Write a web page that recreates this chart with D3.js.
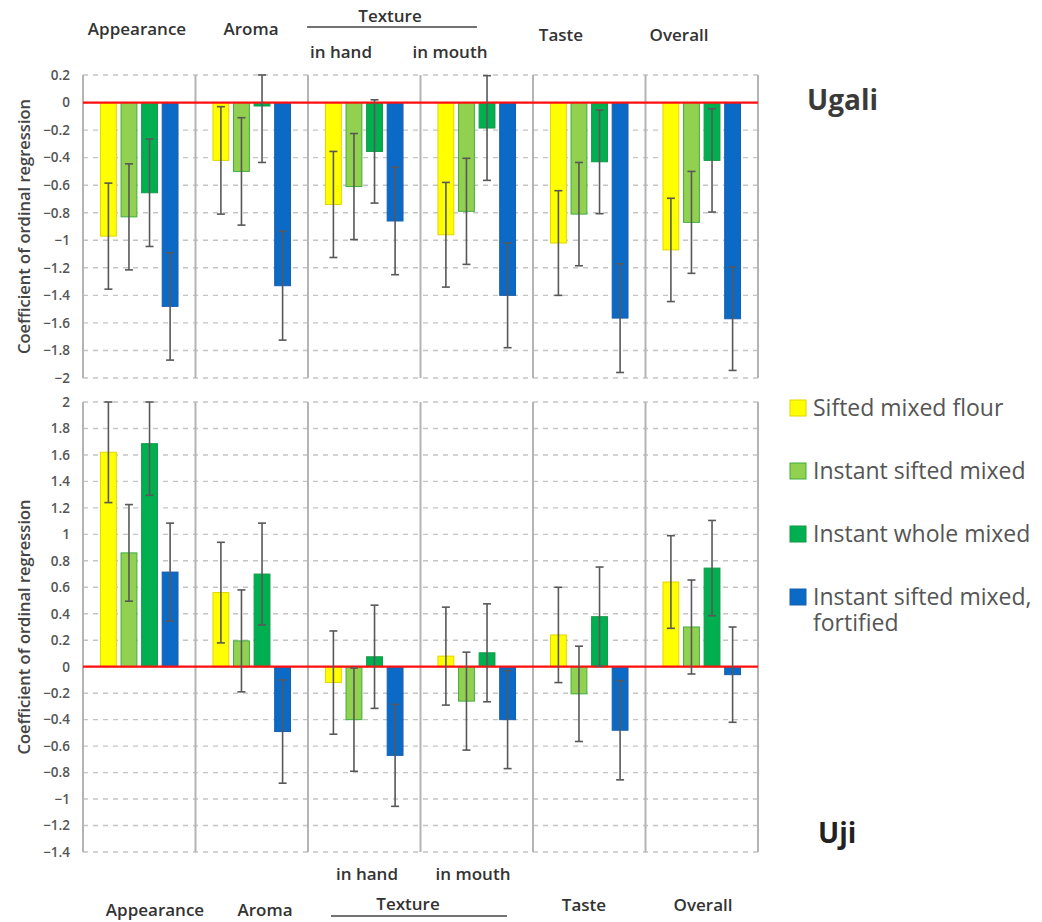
<!DOCTYPE html>
<html><head><meta charset="utf-8">
<script src="https://cdn.jsdelivr.net/npm/d3@7"></script>
<style>body{margin:0;background:#fff}svg{display:block}text{font-family:"Open Sans",sans-serif}</style>
</head><body>
<script>
const categories = ["Appearance","Aroma","Texture in hand","Texture in mouth","Taste","Overall"];
const seriesNames = ["Sifted mixed flour","Instant sifted mixed","Instant whole mixed","Instant sifted mixed, fortified"];
const seriesColors = ["#FFFF00","#92D050","#00B050","#0A6AC6"];
const seriesStrokes = ["#E4D400","#3FAE3F","#119A45","#1A5EAE"];

// Ugali (top panel): coefficients and error half-widths per series
const ugaliSifted = [-0.97,-0.42,-0.74,-0.96,-1.02,-1.07];
const ugaliSiftedErr = [0.385,0.39,0.385,0.38,0.38,0.375];
const ugaliInstSifted = [-0.83,-0.50,-0.61,-0.79,-0.81,-0.87];
const ugaliInstSiftedErr = [0.385,0.39,0.385,0.385,0.375,0.37];
const ugaliInstWhole = [-0.655,-0.025,-0.355,-0.185,-0.43,-0.42];
const ugaliInstWholeErr = [0.39,0.41,0.375,0.38,0.377,0.375];
const ugaliFortified = [-1.48,-1.33,-0.86,-1.40,-1.565,-1.57];
const ugaliFortifiedErr = [0.39,0.395,0.39,0.38,0.395,0.375];

// Uji (bottom panel)
const ujiSifted = [1.62,0.56,-0.12,0.08,0.24,0.64];
const ujiSiftedErr = [0.38,0.38,0.39,0.37,0.36,0.35];
const ujiInstSifted = [0.86,0.195,-0.40,-0.26,-0.205,0.30];
const ujiInstSiftedErr = [0.365,0.385,0.39,0.37,0.36,0.355];
const ujiInstWhole = [1.685,0.70,0.075,0.105,0.378,0.745];
const ujiInstWholeErr = [0.39,0.385,0.39,0.37,0.375,0.36];
const ujiFortified = [0.715,-0.49,-0.67,-0.40,-0.48,-0.06];
const ujiFortifiedErr = [0.37,0.39,0.385,0.37,0.375,0.36];

const ugaliTicks = [0.2,0,-0.2,-0.4,-0.6,-0.8,-1,-1.2,-1.4,-1.6,-1.8,-2];
const ujiTicks = [2,1.8,1.6,1.4,1.2,1,0.8,0.6,0.4,0.2,0,-0.2,-0.4,-0.6,-0.8,-1,-1.2,-1.4];

const W = 1042, H = 922;
const svg = d3.select("body").append("svg").attr("width", W).attr("height", H);

const x0 = d3.scaleBand().domain(categories).range([83, 758]).padding(0);
const x1 = d3.scaleBand().domain(seriesNames).range([0, x0.bandwidth()]).paddingInner(0.23).paddingOuter(0.85);

function panel(name, vals, errs, domain, range, ticks) {
  const y = d3.scaleLinear().domain(domain).range(range);
  const g = svg.append("g");
  g.selectAll("line.grid").data(ticks).join("line")
    .attr("x1", 83).attr("x2", 758)
    .attr("y1", d => y(d)).attr("y2", d => y(d))
    .attr("stroke", "#c4c4c4").attr("stroke-width", 1.4).attr("stroke-dasharray", "5,5");
  const bounds = categories.map(c => x0(c)).concat([758]);
  g.selectAll("line.div").data(bounds).join("line")
    .attr("x1", d => d).attr("x2", d => d)
    .attr("y1", range[0]).attr("y2", range[1])
    .attr("stroke", "#b4b4b4").attr("stroke-width", 2);
  const ax = g.append("g").attr("transform", "translate(70,0)")
    .call(d3.axisLeft(y).tickValues(ticks).tickSize(0).tickPadding(0).tickFormat(d => d3.format("")(+d.toFixed(1))));
  ax.select(".domain").remove();
  ax.selectAll("text").attr("font-size", 13.5).attr("font-weight", 600).attr("fill", "#555")
    .attr("font-family", "'Open Sans',sans-serif");
  seriesNames.forEach((s, si) => {
    const data = categories.map((c, ci) => ({c, v: vals[si][ci], e: errs[si][ci]}));
    g.append("g").selectAll("rect").data(data).join("rect")
      .attr("x", d => x0(d.c) + x1(s))
      .attr("width", x1.bandwidth())
      .attr("y", d => y(Math.max(0, d.v)))
      .attr("height", d => Math.abs(y(d.v) - y(0)))
      .attr("fill", seriesColors[si]).attr("stroke", seriesStrokes[si]).attr("stroke-width", 1);
  });
  g.append("line").attr("x1", 83).attr("x2", 758).attr("y1", y(0)).attr("y2", y(0))
    .attr("stroke", "#FF1010").attr("stroke-width", 2.2);
  const [lo, hi] = d3.extent(domain);
  seriesNames.forEach((s, si) => {
    const data = categories.map((c, ci) => ({c, v: vals[si][ci], e: errs[si][ci]}));
    const eg = g.append("g").attr("stroke", "#585858").attr("stroke-width", 1.6);
    data.forEach(d => {
      const cx = x0(d.c) + x1(s) + x1.bandwidth() / 2;
      const top = Math.min(hi, d.v + d.e), bot = Math.max(lo, d.v - d.e);
      eg.append("line").attr("x1", cx).attr("x2", cx).attr("y1", y(top)).attr("y2", y(bot));
      eg.append("line").attr("x1", cx - 4).attr("x2", cx + 4).attr("y1", y(top)).attr("y2", y(top));
      eg.append("line").attr("x1", cx - 4).attr("x2", cx + 4).attr("y1", y(bot)).attr("y2", y(bot));
    });
  });
  const mid = (range[0] + range[1]) / 2;
  svg.append("text").attr("transform", `translate(30,${mid}) rotate(-90)`)
    .attr("text-anchor", "middle").attr("font-size", 16.5).attr("font-weight", 600).attr("fill", "#444")
    .text("Coefficient of ordinal regression");
  return y;
}

panel("Ugali", [ugaliSifted, ugaliInstSifted, ugaliInstWhole, ugaliFortified],
  [ugaliSiftedErr, ugaliInstSiftedErr, ugaliInstWholeErr, ugaliFortifiedErr], [-2, 0.2], [378, 75], ugaliTicks);
panel("Uji", [ujiSifted, ujiInstSifted, ujiInstWhole, ujiFortified],
  [ujiSiftedErr, ujiInstSiftedErr, ujiInstWholeErr, ujiFortifiedErr], [-1.4, 2], [852, 402], ujiTicks);

const labStyle = sel => sel.attr("font-size", 17).attr("font-weight", 600).attr("fill", "#333").attr("text-anchor", "middle");
const topLabels = [["Appearance",137,35],["Aroma",251,35],["Texture",390,22],["in hand",341,58],["in mouth",450,58],["Taste",561,41],["Overall",679,41]];
svg.selectAll("text.tl").data(topLabels).join("text").call(labStyle)
  .attr("x", d => d[1]).attr("y", d => d[2]).text(d => d[0]);
svg.append("line").attr("x1", 307).attr("x2", 477).attr("y1", 27).attr("y2", 27).attr("stroke", "#444").attr("stroke-width", 1.5);

const botLabels = [["Appearance",155,916],["Aroma",265,916],["Texture",408,910],["in hand",367,880],["in mouth",473,880],["Taste",584,911],["Overall",703,911]];
svg.selectAll("text.bl").data(botLabels).join("text").call(labStyle)
  .attr("x", d => d[1]).attr("y", d => d[2]).text(d => d[0]);
svg.append("line").attr("x1", 331).attr("x2", 507).attr("y1", 916).attr("y2", 916).attr("stroke", "#444").attr("stroke-width", 1.5);

svg.append("text").attr("x", 807).attr("y", 110).attr("font-size", 28).attr("font-weight", 700).attr("fill", "#3a3a3a").text("Ugali");
svg.append("text").attr("x", 818).attr("y", 843).attr("font-size", 28).attr("font-weight", 700).attr("fill", "#222").text("Uji");

const legY = [408, 471, 534, 597];
const lg = svg.append("g");
seriesNames.forEach((s, i) => {
  lg.append("rect").attr("x", 790).attr("y", legY[i] - 8).attr("width", 16).attr("height", 16)
    .attr("fill", seriesColors[i]).attr("stroke", seriesStrokes[i]).attr("stroke-width", 1);
  const t = lg.append("text").attr("x", 813).attr("y", legY[i] + 8).attr("font-size", 23).attr("fill", "#555");
  if (i === 3) {
    t.append("tspan").attr("x", 813).text("Instant sifted mixed,");
    t.append("tspan").attr("x", 813).attr("dy", 26).text("fortified");
  } else t.text(s);
});
</script>
</body></html>
